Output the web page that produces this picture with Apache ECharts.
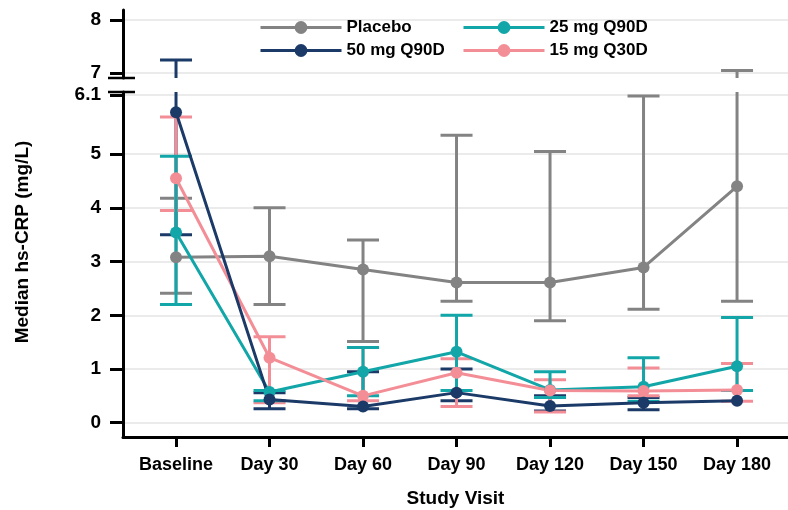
<!DOCTYPE html>
<html><head><meta charset="utf-8">
<script src="https://cdn.jsdelivr.net/npm/echarts@6/dist/echarts.min.js"></script>
<style>html,body{margin:0;padding:0;background:#fff}#c{width:788px;height:510px}</style>
</head><body><div id="c"></div>
<script>
const categories = ['Baseline', 'Day 30', 'Day 60', 'Day 90', 'Day 120', 'Day 150', 'Day 180'];
const lowerTicks = [0, 1, 2, 3, 4, 5, 6.1];
const upperTicks = [7, 8];

const placeboMedian = [3.08, 3.10, 2.85, 2.61, 2.61, 2.89, 4.40];
const placeboLow    = [2.41, 2.20, 1.51, 2.26, 1.90, 2.11, 2.26];
const placeboHigh   = [4.18, 4.00, 3.40, 5.35, 5.05, 6.08, 7.05];

const q90d25Median = [3.54, 0.57, 0.95, 1.32, 0.61, 0.67, 1.05];
const q90d25Low    = [2.20, 0.41, 0.50, 0.60, 0.47, 0.40, 0.60];
const q90d25High   = [4.96, 0.60, 1.40, 2.00, 0.95, 1.21, 1.96];

const q30d15Median = [4.55, 1.21, 0.50, 0.93, 0.60, 0.59, 0.61];
const q30d15Low    = [3.95, 0.37, 0.41, 0.30, 0.20, 0.50, 0.40];
const q30d15High   = [5.69, 1.60, 1.40, 1.19, 0.80, 1.02, 1.10];

const q90d50Median = [5.78, 0.43, 0.30, 0.56, 0.31, 0.37, 0.41];
const q90d50Low    = [3.50, 0.26, 0.26, 0.41, 0.22, 0.24, null];
const q90d50High   = [7.25, 0.56, 0.95, 1.00, 0.50, 0.47, null];

const FONT = '"Liberation Sans", Arial, sans-serif';
const C = { placebo: '#838383', teal: '#12a6a8', navy: '#1b3a68', pink: '#f38e97' };

function errSeries(name, color, lo, hi, gridIdx) {
  const data = [];
  categories.forEach((c, i) => { if (lo[i] != null && hi[i] != null) data.push([i, lo[i], hi[i]]); });
  return {
    type: 'custom', name: name + ' err' + gridIdx, xAxisIndex: gridIdx, yAxisIndex: gridIdx,
    z: 2, silent: true, data: data, encode: { x: 0, y: [1, 2] },
    renderItem: function (params, api) {
      const x = api.coord([api.value(0), 0])[0];
      const yLo = api.coord([0, api.value(1)])[1];
      const yHi = api.coord([0, api.value(2)])[1];
      const cs = params.coordSys;
      const top = cs.y, bot = cs.y + cs.height;
      const y1 = Math.max(top, Math.min(bot, yHi));
      const y2 = Math.max(top, Math.min(bot, yLo));
      const st = { stroke: color, lineWidth: 3 };
      const ch = [];
      if (y2 > y1) ch.push({ type: 'line', shape: { x1: x, y1: y1, x2: x, y2: y2 }, style: st });
      const hw = 16;
      if (yHi >= top - 0.5 && yHi <= bot + 0.5) ch.push({ type: 'line', shape: { x1: x - hw, y1: yHi, x2: x + hw, y2: yHi }, style: st });
      if (yLo >= top - 0.5 && yLo <= bot + 0.5) ch.push({ type: 'line', shape: { x1: x - hw, y1: yLo, x2: x + hw, y2: yLo }, style: st });
      return { type: 'group', children: ch };
    }
  };
}

function lineSeries(name, color, med) {
  return {
    type: 'line', name: name, xAxisIndex: 1, yAxisIndex: 1, z: 3,
    data: med.map((v, i) => [i, v]),
    symbol: 'circle', symbolSize: 12, showSymbol: true,
    lineStyle: { color: color, width: 3 }, itemStyle: { color: color },
    emphasis: { disabled: true }, animation: false
  };
}

const series = [];
[0, 1].forEach(g => {
  series.push(errSeries('50 mg Q90D', C.navy, q90d50Low, q90d50High, g));
  series.push(errSeries('Placebo', C.placebo, placeboLow, placeboHigh, g));
  series.push(errSeries('15 mg Q30D', C.pink, q30d15Low, q30d15High, g));
  series.push(errSeries('25 mg Q90D', C.teal, q90d25Low, q90d25High, g));
});
series.push(lineSeries('Placebo', C.placebo, placeboMedian));
series.push(lineSeries('25 mg Q90D', C.teal, q90d25Median));
series.push(lineSeries('15 mg Q30D', C.pink, q30d15Median));
series.push(lineSeries('50 mg Q90D', C.navy, q90d50Median));

const axisBlack = { color: '#000', width: 3 };
const lblStyle = { fontSize: 18, fontWeight: 'bold', color: '#000', fontFamily: FONT };
const ylblStyle = { fontSize: 19, fontWeight: 'bold', color: '#000', fontFamily: FONT };
const legendBase = {
  orient: 'vertical', top: 14, itemWidth: 81, itemHeight: 16, itemGap: 6,
  lineStyle: { width: 3 },
  textStyle: { fontSize: 17, fontWeight: 'bold', color: '#000', fontFamily: FONT, lineHeight: 16 },
  selectedMode: false
};

const option = {
  animation: false,
  backgroundColor: '#fff',
  grid: [
    { left: 123, right: 0, top: 10, height: 68, outerBoundsMode: 'none', containLabel: false },
    { left: 123, right: 0, top: 92, height: 345, outerBoundsMode: 'none', containLabel: false }
  ],
  xAxis: [
    { gridIndex: 0, type: 'value', min: -0.567, max: 6.545, show: false },
    {
      gridIndex: 1, type: 'value', min: -0.567, max: 6.545,
      axisLine: { onZero: false, lineStyle: axisBlack },
      axisTick: { customValues: [0, 1, 2, 3, 4, 5, 6], length: 10, lineStyle: axisBlack },
      axisLabel: Object.assign({ customValues: [0, 1, 2, 3, 4, 5, 6], margin: 19, formatter: v => categories[Math.round(v)] }, lblStyle),
      splitLine: { show: false },
      name: 'Study Visit', nameLocation: 'middle', nameGap: 52,
      nameTextStyle: { fontSize: 19, fontWeight: 'bold', color: '#000', fontFamily: FONT }
    }
  ],
  yAxis: [
    {
      gridIndex: 0, type: 'value', min: 6.91, max: 8.19,
      axisLine: { show: true, onZero: false, lineStyle: axisBlack },
      axisTick: { show: true, customValues: upperTicks, length: 13, lineStyle: axisBlack },
      axisLabel: Object.assign({ customValues: upperTicks, margin: 22, formatter: v => String(v) }, ylblStyle),
      splitLine: { show: true, lineStyle: { color: '#ebebeb', width: 2 } }
    },
    {
      gridIndex: 1, type: 'value', min: -0.266, max: 6.156,
      axisLine: { show: true, onZero: false, lineStyle: axisBlack },
      axisTick: { show: true, customValues: lowerTicks, length: 13, lineStyle: axisBlack },
      axisLabel: Object.assign({ customValues: lowerTicks, margin: 22, formatter: v => String(v) }, ylblStyle),
      splitLine: { show: true, lineStyle: { color: '#ebebeb', width: 2 } }
    }
  ],
  legend: [
    Object.assign({ left: 254, data: ['Placebo', '50 mg Q90D'] }, legendBase),
    Object.assign({ left: 457, data: ['25 mg Q90D', '15 mg Q30D'] }, legendBase)
  ],
  graphic: [
    { type: 'line', shape: { x1: 108, y1: 78, x2: 135, y2: 78 }, style: { stroke: '#000', lineWidth: 2.5 }, z: 10 },
    { type: 'line', shape: { x1: 108, y1: 92, x2: 135, y2: 92 }, style: { stroke: '#000', lineWidth: 2.5 }, z: 10 },
    { type: 'text', x: 23, y: 242, rotation: Math.PI / 2,
      style: { text: 'Median hs-CRP (mg/L)', fontSize: 19, fontWeight: 'bold', fill: '#000', fontFamily: FONT, align: 'center', verticalAlign: 'middle' } }
  ],
  series: series
};

const chart = echarts.init(document.getElementById('c'), null, { renderer: 'canvas' });
chart.setOption(option);
</script>
</body></html>
